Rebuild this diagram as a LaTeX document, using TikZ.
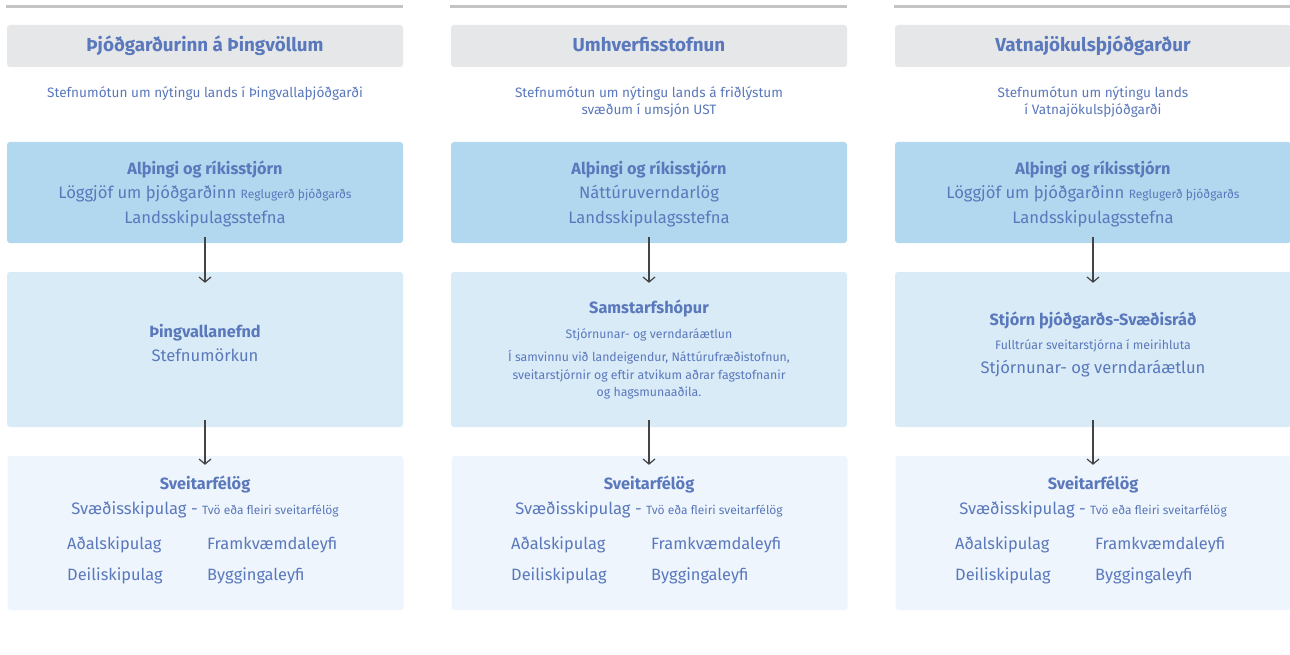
\documentclass[tikz,border=0pt]{standalone}
\usepackage{fontspec}
\setmainfont{Fira Sans}
\usetikzlibrary{arrows.meta}
\definecolor{txt}{HTML}{5A78BC}
\definecolor{hdrfill}{HTML}{E6E7E9}
\definecolor{topline}{HTML}{C4C4C4}
\definecolor{fillA}{HTML}{B1D8EE}
\definecolor{fillB}{HTML}{D9EBF7}
\definecolor{fillC}{HTML}{EEF5FC}
\definecolor{arrowc}{HTML}{444444}
\newcommand{\fs}[1]{\fontsize{#1}{#1}\selectfont}
\tikzset{
  boxbase/.style={draw=none, rounded corners=3pt, inner sep=0pt, minimum width=396pt},
  hdrbox/.style={boxbase, fill=hdrfill, minimum height=42pt},
  boxA/.style={boxbase, fill=fillA, minimum height=101pt},
  boxB/.style={boxbase, fill=fillB, minimum height=155pt},
  boxC/.style={boxbase, fill=fillC, minimum height=154pt},
  tline/.style={draw=topline, line width=3pt},
  lbl/.style={text=txt, inner sep=0pt, text height=0.72em, text depth=0.22em, align=center, yshift=-3.5pt},
  hdrtxt/.style={lbl, font=\fs{18.8}\bfseries},
  subtxt/.style={lbl, font=\fs{13.6}, align=center},
  boldtxt/.style={lbl, font=\fs{16.3}\bfseries},
  bodytxt/.style={lbl, font=\fs{16.6}},
  smalltxt/.style={lbl, font=\fs{12.3}},
  itemtxt/.style={lbl, font=\fs{16.4}, anchor=west},
  flow/.style={draw=arrowc, line width=1.2pt, -{Straight Barb[length=5pt,width=12pt,line width=1.2pt]}}
}
\begin{document}
\begin{tikzpicture}[x=1pt,y=-1pt]
\useasboundingbox (0,0) rectangle (1290,655);
\fill[white] (0,0) rectangle (1290,655);

% ---------- column 1 ----------
\coordinate (l1a) at (6,6.5);
\coordinate (l1b) at (403,6.5);
\draw[tline] (l1a) -- (l1b);
\node[hdrbox] (h1) at (205,46) {};
\node[hdrtxt] (h1t) at (205,46) {Þjóðgarðurinn á Þingvöllum};
\node[subtxt] (s1) at (205,92) {Stefnumótun um nýtingu lands í Þingvallaþjóðgarði};
\node[boxA] (a1) at (205,192.5) {};
\node[boldtxt] (a1t1) at (205,169) {Alþingi og ríkisstjórn};
\node[bodytxt] (a1t2) at (205,193) {Löggjöf um þjóðgarðinn {\fs{12}Reglugerð þjóðgarðs}};
\node[bodytxt] (a1t3) at (205,217) {Landsskipulagsstefna};
\node[boxB] (b1) at (205,349.5) {};
\node[boldtxt] (b1t1) at (205,331) {Þingvallanefnd};
\node[bodytxt] (b1t2) at (205,355) {Stefnumörkun};
\node[boxC] (c1) at (205.5,533) {};
\node[boldtxt] (c1t1) at (205,483) {Sveitarfélög};
\node[bodytxt] (c1t2) at (205,508) {Svæðisskipulag - {\fs{12}Tvö eða fleiri sveitarfélög}};
\node[itemtxt] (c1i1) at (67,543) {Aðalskipulag};
\node[itemtxt] (c1i2) at (207,543) {Framkvæmdaleyfi};
\node[itemtxt] (c1i3) at (67,574) {Deiliskipulag};
\node[itemtxt] (c1i4) at (207,574) {Byggingaleyfi};
\draw[flow, shorten <=-6pt, shorten >=-11pt] (a1.south) -- (b1.north);
\draw[flow, shorten <=-7pt, shorten >=-9pt] (b1.south) -- (c1.north -| b1.south);

% ---------- column 2 ----------
\coordinate (l2a) at (450,6.5);
\coordinate (l2b) at (847,6.5);
\draw[tline] (l2a) -- (l2b);
\node[hdrbox] (h2) at (649,46) {};
\node[hdrtxt] (h2t) at (649,46) {Umhverfisstofnun};
\node[subtxt] (s2a) at (649,92) {Stefnumótun um nýtingu lands á friðlýstum};
\node[subtxt] (s2b) at (649,109) {svæðum í umsjón UST};
\node[boxA] (a2) at (649,192.5) {};
\node[boldtxt] (a2t1) at (649,169) {Alþingi og ríkisstjórn};
\node[bodytxt] (a2t2) at (649,193) {Náttúruverndarlög};
\node[bodytxt] (a2t3) at (649,217) {Landsskipulagsstefna};
\node[boxB] (b2) at (649,349.5) {};
\node[boldtxt] (b2t1) at (649,307) {Samstarfshópur};
\node[smalltxt] (b2t2) at (649,332) {Stjórnunar- og verndaráætlun};
\node[smalltxt] (b2t3) at (649,355) {Í samvinnu við landeigendur, Náttúrufræðistofnun,};
\node[smalltxt] (b2t4) at (649,373) {sveitarstjórnir og eftir atvikum aðrar fagstofnanir};
\node[smalltxt] (b2t5) at (649,390) {og hagsmunaaðila.};
\node[boxC] (c2) at (649.5,533) {};
\node[boldtxt] (c2t1) at (649,483) {Sveitarfélög};
\node[bodytxt] (c2t2) at (649,508) {Svæðisskipulag - {\fs{12}Tvö eða fleiri sveitarfélög}};
\node[itemtxt] (c2i1) at (511,543) {Aðalskipulag};
\node[itemtxt] (c2i2) at (651,543) {Framkvæmdaleyfi};
\node[itemtxt] (c2i3) at (511,574) {Deiliskipulag};
\node[itemtxt] (c2i4) at (651,574) {Byggingaleyfi};
\draw[flow, shorten <=-6pt, shorten >=-11pt] (a2.south) -- (b2.north);
\draw[flow, shorten <=-7pt, shorten >=-9pt] (b2.south) -- (c2.north -| b2.south);

% ---------- column 3 ----------
\coordinate (l3a) at (894,6.5);
\coordinate (l3b) at (1291,6.5);
\draw[tline] (l3a) -- (l3b);
\node[hdrbox] (h3) at (1093,46) {};
\node[hdrtxt] (h3t) at (1093,46) {Vatnajökulsþjóðgarður};
\node[subtxt] (s3a) at (1093,92) {Stefnumótun um nýtingu lands};
\node[subtxt] (s3b) at (1093,109) {í Vatnajökulsþjóðgarði};
\node[boxA] (a3) at (1093,192.5) {};
\node[boldtxt] (a3t1) at (1093,169) {Alþingi og ríkisstjórn};
\node[bodytxt] (a3t2) at (1093,193) {Löggjöf um þjóðgarðinn {\fs{12}Reglugerð þjóðgarðs}};
\node[bodytxt] (a3t3) at (1093,217) {Landsskipulagsstefna};
\node[boxB] (b3) at (1093,349.5) {};
\node[boldtxt] (b3t1) at (1093,319) {Stjórn þjóðgarðs-Svæðisráð};
\node[smalltxt] (b3t2) at (1093,343) {Fulltrúar sveitarstjórna í meirihluta};
\node[bodytxt] (b3t3) at (1093,367) {Stjórnunar- og verndaráætlun};
\node[boxC] (c3) at (1093.5,533) {};
\node[boldtxt] (c3t1) at (1093,483) {Sveitarfélög};
\node[bodytxt] (c3t2) at (1093,508) {Svæðisskipulag - {\fs{12}Tvö eða fleiri sveitarfélög}};
\node[itemtxt] (c3i1) at (955,543) {Aðalskipulag};
\node[itemtxt] (c3i2) at (1095,543) {Framkvæmdaleyfi};
\node[itemtxt] (c3i3) at (955,574) {Deiliskipulag};
\node[itemtxt] (c3i4) at (1095,574) {Byggingaleyfi};
\draw[flow, shorten <=-6pt, shorten >=-11pt] (a3.south) -- (b3.north);
\draw[flow, shorten <=-7pt, shorten >=-9pt] (b3.south) -- (c3.north -| b3.south);
\end{tikzpicture}
\end{document}
